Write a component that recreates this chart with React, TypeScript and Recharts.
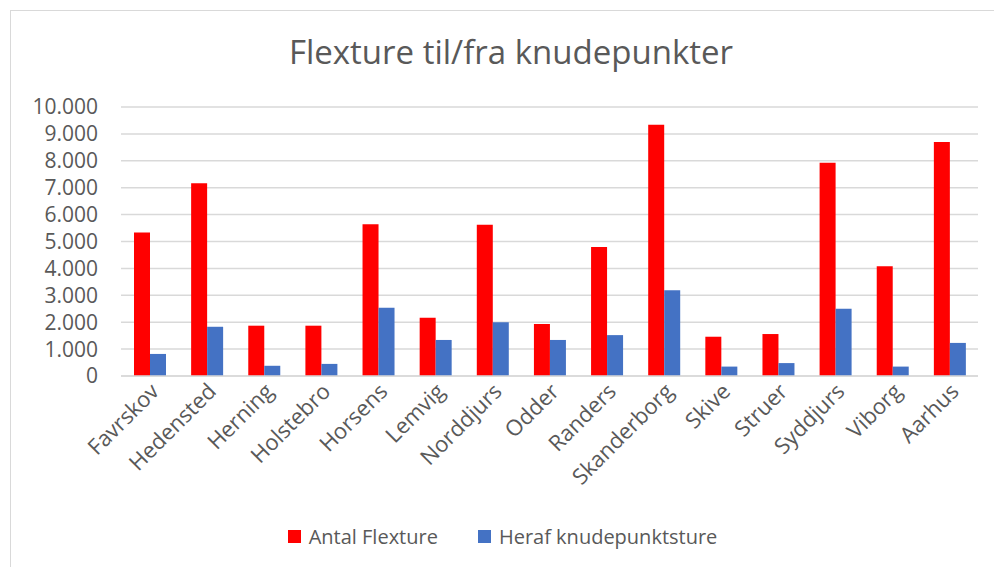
import React from 'react';
import { BarChart, Bar, XAxis, YAxis, CartesianGrid, Legend } from 'recharts';

const kommuner = [
  'Favrskov', 'Hedensted', 'Herning', 'Holstebro', 'Horsens', 'Lemvig', 'Norddjurs', 'Odder',
  'Randers', 'Skanderborg', 'Skive', 'Struer', 'Syddjurs', 'Viborg', 'Aarhus',
];
const antalFlexture = [5330, 7170, 1870, 1870, 5640, 2170, 5620, 1930, 4800, 9340, 1460, 1560, 7930, 4080, 8700];
const knudepunktsture = [820, 1830, 380, 450, 2540, 1340, 2000, 1340, 1520, 3190, 350, 480, 2500, 350, 1230];
const yTicks = [0, 1000, 2000, 3000, 4000, 5000, 6000, 7000, 8000, 9000, 10000];

const data = kommuner.map((navn, i) => ({
  navn,
  antal: antalFlexture[i],
  heraf: knudepunktsture[i],
}));

const FONT = '"Open Sans", "Noto Sans", sans-serif';
const GREY = '#595959';

// thousands with a dot, like the Danish Excel original
const fmt = (v: number) => String(v).replace(/\B(?=(\d{3})+(?!\d))/g, '.');

const XTick = (props: any) => {
  const { x, y, payload } = props;
  return (
    <g transform={`translate(${x + 8},${y + 6})`}>
      <text x={0} y={0} dy={4} textAnchor="end" transform="rotate(-45)" fill={GREY} fontSize={22} fontFamily={FONT}>
        {payload.value}
      </text>
    </g>
  );
};

const LegendContent = () => (
  <div style={{ display: 'flex', justifyContent: 'center', fontFamily: FONT, fontSize: 20, color: GREY }}>
    <div style={{ display: 'flex', alignItems: 'center', marginRight: 40 }}>
      <span style={{ width: 13, height: 13, background: '#ff0000', marginRight: 8, display: 'inline-block' }} />
      Antal Flexture
    </div>
    <div style={{ display: 'flex', alignItems: 'center' }}>
      <span style={{ width: 13, height: 13, background: '#4472c4', marginRight: 8, display: 'inline-block' }} />
      Heraf knudepunktsture
    </div>
  </div>
);

export default function App() {
  return (
    <div
      style={{
        position: 'absolute',
        left: 10,
        top: 10,
        width: 983,
        height: 556,
        borderTop: '1px solid #d9d9d9',
        borderLeft: '1px solid #d9d9d9',
        background: '#fff',
      }}
    >
      <div
        style={{
          position: 'absolute',
          left: 0,
          width: 1000,
          top: 18,
          textAlign: 'center',
          fontFamily: FONT,
          fontSize: 33,
          color: GREY,
        }}
      >
        Flexture til/fra knudepunkter
      </div>
      <BarChart
        width={983}
        height={556}
        data={data}
        margin={{ top: 96, right: 16, left: 0, bottom: 34 }}
        barGap={0}
      >
        <CartesianGrid vertical={false} stroke="#d9d9d9" strokeWidth={1.5} />
        <XAxis
          dataKey="navn"
          interval={0}
          height={130}
          tick={<XTick />}
          tickLine={false}
          axisLine={{ stroke: '#d9d9d9', strokeWidth: 1.5 }}
        />
        <YAxis
          width={110}
          domain={[0, 10000]}
          ticks={yTicks}
          interval={0}
          tickFormatter={fmt}
          tickLine={false}
          axisLine={false}
          tickMargin={17}
          tick={{ fill: GREY, fontSize: 21, fontFamily: FONT }}
        />
        <Legend content={<LegendContent />} wrapperStyle={{ top: 512, left: 0, width: 983 }} />
        <Bar dataKey="antal" name="Antal Flexture" fill="#ff0000" barSize={16} isAnimationActive={false} />
        <Bar dataKey="heraf" name="Heraf knudepunktsture" fill="#4472c4" barSize={16} isAnimationActive={false} />
      </BarChart>
    </div>
  );
}
